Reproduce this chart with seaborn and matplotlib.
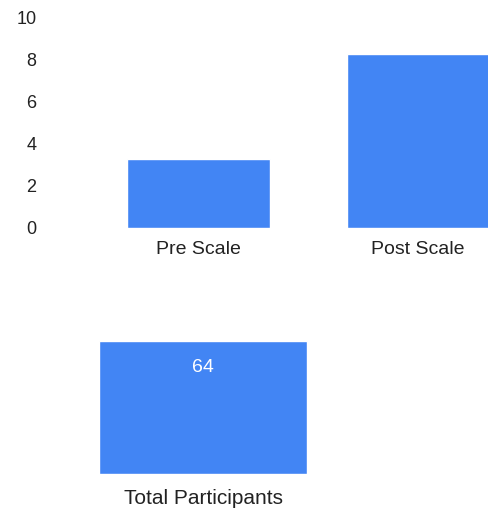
import numpy as np
import pandas as pd
import matplotlib
matplotlib.use('Agg')
import matplotlib.pyplot as plt
import seaborn as sns

scale_labels = ['Pre Scale', 'Post Scale']
scale_values = [3.25, 8.25]
total_labels = ['Total Participants']
total_values = [64]
yticks = [0, 2, 4, 6, 8, 10]

BLUE = '#4285f4'
TXT = '#222222'

sns.set_style('white')
plt.rcParams['font.family'] = ['Liberation Sans', 'DejaVu Sans']

fig = plt.figure(figsize=(4.88, 5.14), dpi=100)

# top chart, runs past the right edge like the original
ax = fig.add_axes([88/488, (514-228)/514, 440/488, 211/514])
df = pd.DataFrame({'cat': scale_labels, 'val': scale_values})
sns.barplot(x='cat', y='val', data=df, ax=ax, color=BLUE, width=0.65, saturation=1)
ax.set_ylim(0, 10)
ax.set_xlim(-0.5, 1.5)
ax.set_yticks(yticks)
ax.set_xlabel('')
ax.set_ylabel('')
ax.tick_params(axis='y', length=0, pad=37, labelsize=13, labelcolor=TXT)
ax.tick_params(axis='x', length=0, pad=9, labelsize=14, labelcolor=TXT)
for lab in ax.get_yticklabels():
    lab.set_ha('right')
sns.despine(ax=ax, left=True, bottom=True)

# bottom chart
ax2 = fig.add_axes([43/488, (514-474)/514, 320/488, 133/514])
df2 = pd.DataFrame({'cat': total_labels, 'val': total_values})
sns.barplot(x='cat', y='val', data=df2, ax=ax2, color=BLUE, width=0.65, saturation=1)
ax2.set_ylim(0, total_values[0])
ax2.set_xlim(-0.5, 0.5)
ax2.set_yticks([])
ax2.set_xlabel('')
ax2.set_ylabel('')
ax2.tick_params(axis='x', length=0, pad=11, labelsize=15, labelcolor=TXT)
ax2.bar_label(ax2.containers[0], labels=[str(v) for v in total_values],
              padding=-25, color='white', fontsize=14)
sns.despine(ax=ax2, left=True, bottom=True)

fig.savefig('out.png', dpi=100)
plt.close()
